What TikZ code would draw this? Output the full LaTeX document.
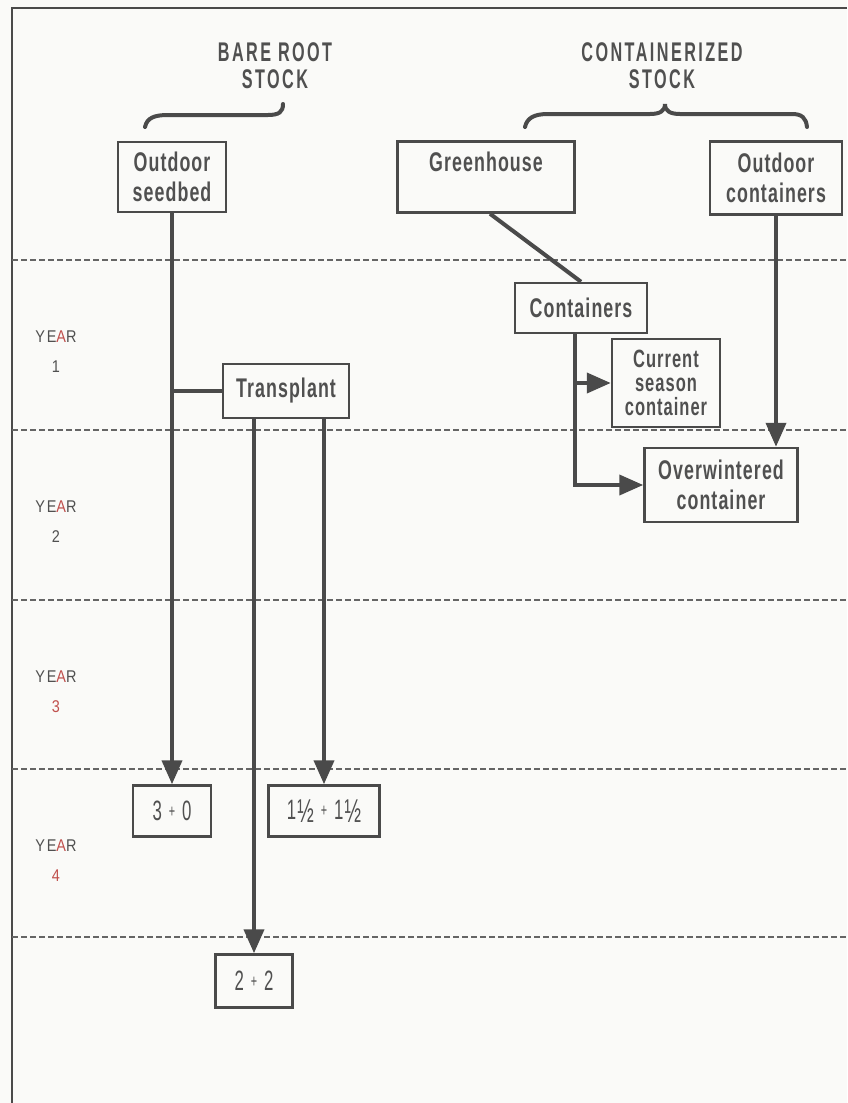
\documentclass[tikz,border=0pt]{standalone}
\usepackage{fontspec}
\newfontfamily\condfont[FakeStretch=0.66,LetterSpace=4]{Liberation Sans}
\newfontfamily\hdrfont[FakeStretch=0.6,LetterSpace=9]{Liberation Sans}
\newfontfamily\numfont[FakeStretch=0.6]{Liberation Sans}
\newfontfamily\yearfont[FakeStretch=0.85,LetterSpace=10]{Liberation Sans}
\usepackage{tikz}
\usetikzlibrary{arrows.meta, positioning}
\definecolor{InkGray}{HTML}{4A4A4A}
\definecolor{TextGray}{HTML}{505050}
\definecolor{YearRed}{HTML}{C0504D}
\definecolor{PaperWhite}{HTML}{FAFAF8}
\newcommand\plusx{\kern7pt{\fontsize{18}{18}\selectfont\raisebox{3pt}{+}}\kern7pt}
\newcommand\halfx{\kern1pt\raisebox{-3pt}{\fontsize{33}{30}\selectfont ½}}
\tikzset{
  bx/.style 2 args={rectangle, draw=InkGray, line width=2.5pt, fill=PaperWhite, inner sep=0pt,
             align=center, minimum width=#1, minimum height=#2, text=TextGray,
             font=\condfont\bfseries\fontsize{27}{30}\selectfont},
  nb/.style 2 args={bx={#1}{#2}, font=\numfont\fontsize{28}{30}\selectfont},
  arr/.style={-{Triangle[length=24pt,width=20pt]}, line width=4pt, color=InkGray},
  ln/.style={line width=4pt, color=InkGray},
  sep/.style={dash pattern=on 6pt off 3pt, line width=1.8pt, color=InkGray!85},
  brace/.style={line width=4pt, color=InkGray, line cap=round},
  hdr/.style={align=center, text=TextGray, font=\hdrfont\bfseries\fontsize{27}{27}\selectfont},
  yr/.style={align=center, text=TextGray, font=\yearfont\fontsize{17}{30}\selectfont},
}
\begin{document}
\begin{tikzpicture}[x=1pt,y=-1pt]
  \useasboundingbox[fill=PaperWhite] (0,0) rectangle (847,1103);

  % frame and year rules
  \draw[line width=2pt, InkGray] (847,8) -- (12,8) -- (12,1103);
  \foreach \yy in {260,430,600,769,937}
    \draw[sep] (12,\yy) -- (847,\yy);

  % year labels
  \foreach \n/\c [count=\i from 0] in {1/TextGray,2/TextGray,3/YearRed,4/YearRed}
    \node[yr] (year\n) at (56,352+169.7*\i) {YE\textcolor{YearRed}{A}R\\\textcolor{\c}{\n}};

  % headings
  \node[hdr] (bareroot) at (275,66) {BARE ROOT\\STOCK};
  \node[hdr] (contstock) at (662,66) {CONTAINERIZED\\STOCK};
  \draw[brace] (145,127) .. controls (147,118) and (154,115) .. (168,115) -- (268,115)
    .. controls (279,115) and (283,112) .. (283,104);
  \draw[brace] (525,127) .. controls (527,118) and (534,114) .. (548,114) -- (650,114)
    .. controls (660,114) and (665,111) .. (665,104)
    .. controls (665,111) and (670,114) .. (680,114) -- (792,114)
    .. controls (802,114) and (806,118) .. (807,127);

  % bare root stock
  \node[bx={108pt}{70pt}] (seedbed) at (172,177) {Outdoor\\seedbed};
  \node[bx={126pt}{54pt}] (transplant) at (286,391) {Transplant};
  \node[nb={78pt}{51pt}] (threezero) at (172,811) {3\plusx0};
  \node[nb={111pt}{51pt}, right=55pt of threezero] (halfhalf) {1\halfx\plusx1\halfx};
  \node[nb={77pt}{53pt}] (twotwo) at (254,981) {2\plusx2};

  % containerized stock
  \node[bx={177pt}{71pt}] (greenhouse) at (486,177) {Greenhouse\\\mbox{}};
  \node[bx={132pt}{73pt}] (outcont) at (776,178) {Outdoor\\containers};
  \node[bx={132pt}{50pt}] (containers) at (581,308) {Containers};
  \node[bx={108pt}{88pt}, font=\condfont\bfseries\fontsize{25}{24}\selectfont] (current) at (666,383)
    {Current\\season\\container};
  \node[bx={153pt}{74pt}] (overwint) at (721,485) {Overwintered\\container};

  % Arrows
  \draw[arr] (seedbed.south) -- (threezero.north);
  \draw[ln] (transplant.west) -- (transplant.west -| seedbed.south);
  \draw[arr] (twotwo.north |- transplant.south) -- (twotwo.north);
  \draw[arr] (halfhalf.north |- transplant.south) -- (halfhalf.north);
  \draw[ln] ([xshift=4pt]greenhouse.south) -- (containers.north);
  \coordinate (split) at ([xshift=-6pt]containers.south);
  \draw[arr] (split) |- (overwint.west);
  \draw[arr] (split |- current.west) -- (current.west);
  \draw[arr] (outcont.south) -- (outcont.south |- overwint.north);

\end{tikzpicture}
\end{document}
